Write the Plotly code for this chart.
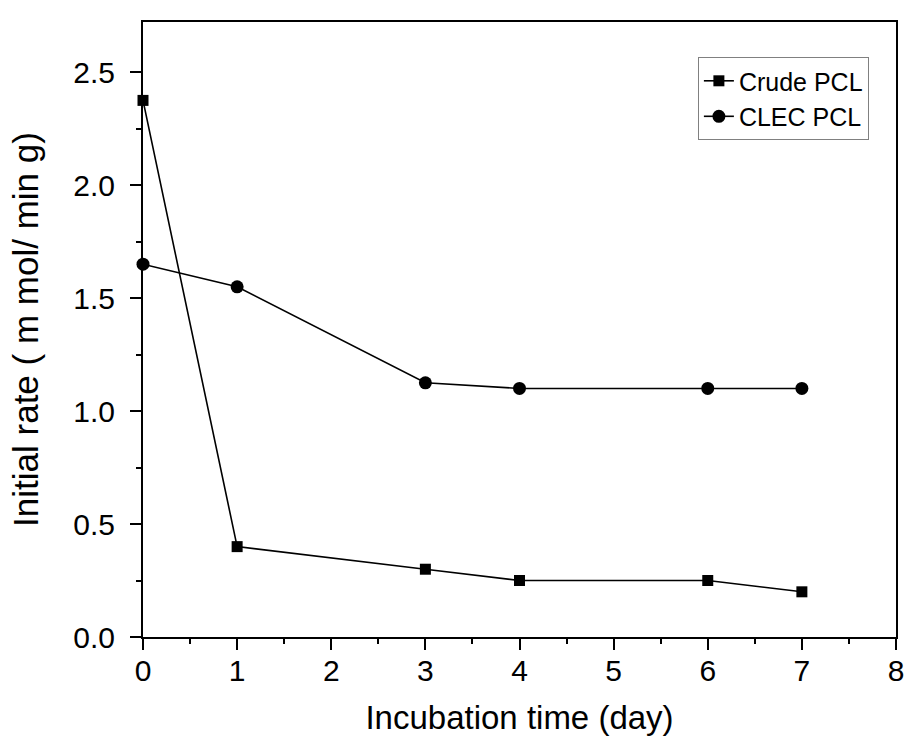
import plotly.graph_objects as go

days = [0, 1, 3, 4, 6, 7]
crude_pcl = [2.375, 0.40, 0.30, 0.25, 0.25, 0.20]
clec_pcl = [1.65, 1.55, 1.125, 1.10, 1.10, 1.10]

x_ticks = [0, 1, 2, 3, 4, 5, 6, 7, 8]
y_ticks = [0.0, 0.5, 1.0, 1.5, 2.0, 2.5]
y_tick_labels = ["0.0", "0.5", "1.0", "1.5", "2.0", "2.5"]

font_family = "Liberation Sans, Arial, sans-serif"

fig = go.Figure()
fig.add_trace(go.Scatter(
    x=days, y=crude_pcl, name="Crude PCL", mode="lines+markers",
    line=dict(color="black", width=1.6),
    marker=dict(symbol="square", size=11, color="black"),
    cliponaxis=False,
))
fig.add_trace(go.Scatter(
    x=days, y=clec_pcl, name="CLEC PCL", mode="lines+markers",
    line=dict(color="black", width=1.6),
    marker=dict(symbol="circle", size=13, color="black"),
    cliponaxis=False,
))

axis_common = dict(
    showgrid=False, zeroline=False, showline=True, linecolor="black",
    linewidth=2, mirror=True, ticks="outside", ticklen=11, tickwidth=2,
    tickcolor="black", tickfont=dict(size=30, color="black", family=font_family),
    ticklabeloverflow="allow",
)

fig.update_xaxes(
    range=[0, 8], tickvals=x_ticks,
    ticklabelstandoff=-5,
    minor=dict(dtick=0.5, ticks="outside", ticklen=5, tickwidth=2, tickcolor="black"),
    title=dict(text="Incubation time (day)", font=dict(size=33, color="black", family=font_family), standoff=27),
    **axis_common,
)
fig.update_yaxes(
    range=[0, 2.722], tickvals=y_ticks, ticktext=y_tick_labels,
    ticklabelstandoff=9,
    minor=dict(dtick=0.25, ticks="outside", ticklen=5, tickwidth=2, tickcolor="black"),
    title=dict(text="Initial rate ( m mol/ min g)", font=dict(size=35, color="black", family=font_family), standoff=24),
    **axis_common,
)

fig.update_layout(
    width=904, height=736,
    margin=dict(l=143, r=8, t=22, b=99, autoexpand=False),
    paper_bgcolor="white", plot_bgcolor="white",
    font=dict(family=font_family, color="black"),
    legend=dict(
        x=0.964, y=0.943, xanchor="right", yanchor="top",
        bgcolor="white", bordercolor="#808080", borderwidth=1,
        font=dict(size=25, color="black", family=font_family),
        itemsizing="trace", tracegroupgap=0,
    ),
    showlegend=True,
)

fig.write_html("out.html")
